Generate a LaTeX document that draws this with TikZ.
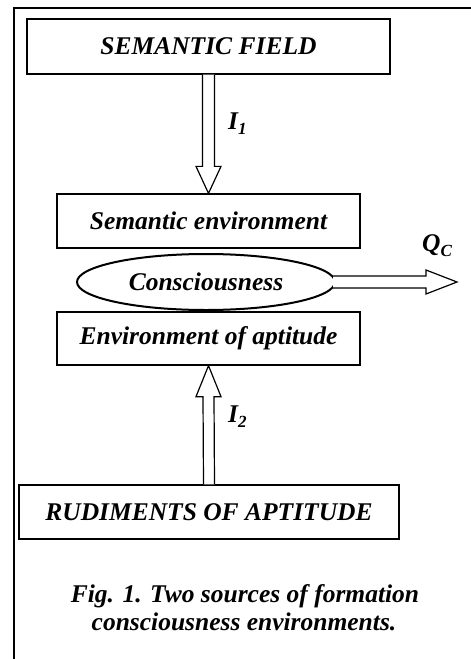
\documentclass[tikz,border=0pt]{standalone}
\usepackage{fontspec}
\setmainfont{Liberation Serif}
\usetikzlibrary{calc,shapes.geometric}
\newcommand{\subsz}[1]{\raisebox{-0.22em}{\fontsize{17}{17}\selectfont #1}}
\begin{document}
\begin{tikzpicture}[x=1pt,y=-1pt,
 lbl/.style={font=\fontsize{25.5}{30}\selectfont\bfseries\itshape,inner sep=0pt},
 boxnode/.style={draw,line width=1.3pt,inner sep=0pt,lbl},
 hollow/.style={draw,line width=1.2pt,fill=white,line join=miter}]
\useasboundingbox (0,0) rectangle (471,659);
\draw[line width=1.3pt] (471,8) -- (14,8) -- (14,659);
\node[boxnode,minimum width=363pt,minimum height=55pt] (sf) at (208.5,46.5) {SEMANTIC FIELD};
\node[boxnode,minimum width=303pt,minimum height=54pt] (se) at (208.5,221) {Semantic environment};
\node[boxnode,minimum width=303pt,minimum height=53pt] (ea) at (208.5,338.5) {Environment of aptitude};
\node[boxnode,minimum width=380pt,minimum height=54pt] (ru) at (209,512) {RUDIMENTS OF APTITUDE};
\node[draw,ellipse,line width=2pt,inner sep=0pt,minimum width=258pt,minimum height=56pt,lbl] (cons) at (206,282) {Consciousness};
\coordinate (qtip) at (457,282);
% I1 arrow
\draw[hollow] ($(sf.south)+(-6,0)$) -- ($(se.north)+(-6,-27)$) -- ($(se.north)+(-12.5,-27)$) -- (se.north)
  -- ($(se.north)+(12.5,-27)$) -- ($(se.north)+(6,-27)$) -- ($(sf.south)+(6,0)$);
% I2 arrow
\draw[hollow] ($(ru.north)+(-5.5,0)$) -- ($(ea.south)+(-5.5,31)$) -- ($(ea.south)+(-12.5,31)$) -- (ea.south)
  -- ($(ea.south)+(12.5,31)$) -- ($(ea.south)+(5.5,31)$) -- ($(ru.north)+(5.5,0)$);
% Qc arrow
\draw[hollow] ($(cons.east)+(-3,-6)$) -- ($(qtip)+(-31,-6)$) -- ($(qtip)+(-31,-12)$) -- (qtip)
  -- ($(qtip)+(-31,12)$) -- ($(qtip)+(-31,6)$) -- ($(cons.east)+(-3,6)$);
% labels
\node[lbl,anchor=base west] (i1) at (228,129) {I\subsz{1}};
\node[lbl,anchor=base west] (i2) at (228,422) {I\subsz{2}};
\node[lbl,anchor=base west] (qc) at (422,251) {Q\subsz{C}};
\node[lbl,anchor=base] (cap1) at (245,602) {Fig. 1. Two sources of formation};
\node[lbl,anchor=base] (cap2) at (244,630) {consciousness environments.};
\end{tikzpicture}
\end{document}
